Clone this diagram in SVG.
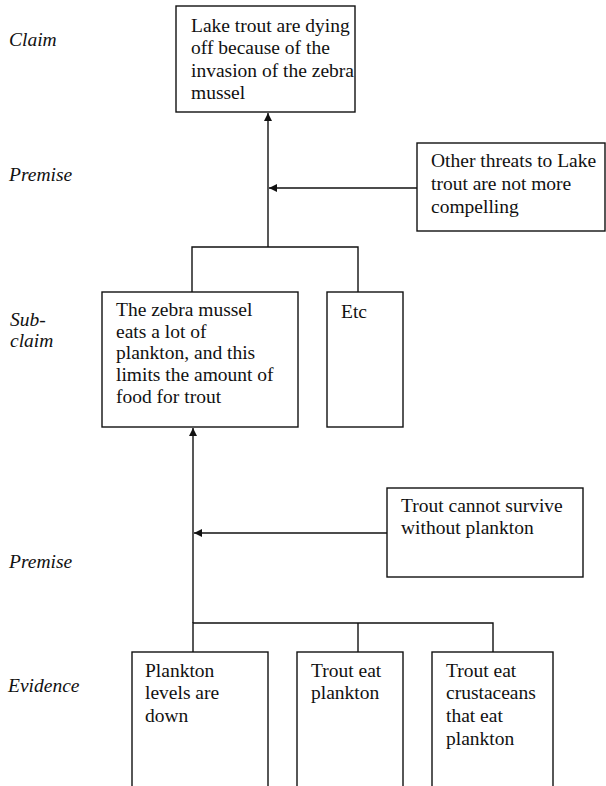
<svg xmlns="http://www.w3.org/2000/svg" width="606" height="786" viewBox="0 0 606 786">
<style>
.box{fill:#fff;stroke:#111;stroke-width:1.4}
.t{font-size:19.5px;fill:#111}
.lbl{font-size:19.5px;font-style:italic;fill:#111}
.c{fill:none;stroke:#111;stroke-width:1.4}
</style>
<defs>
<marker id="ah" viewBox="0 0 10 10" refX="10" refY="5" markerWidth="10" markerHeight="8" markerUnits="userSpaceOnUse" orient="auto">
<path d="M0,0 L10,5 L0,10 Z" fill="#111"/>
</marker>
</defs>
<g font-family="Liberation Serif, serif">
<g id="labels">
<text class="lbl" x="9" y="46">Claim</text>
<text class="lbl" x="9" y="181">Premise</text>
<text class="lbl" x="10" y="326">Sub-</text>
<text class="lbl" x="10" y="347">claim</text>
<text class="lbl" x="9" y="568">Premise</text>
<text class="lbl" x="8" y="692">Evidence</text>
</g>
<g id="connectors">
<path class="c" d="M268,247 L268,113" marker-end="url(#ah)"/>
<path class="c" d="M417,188 L269,188" marker-end="url(#ah)"/>
<path class="c" d="M192,292 L192,247 L358,247 L358,292"/>
<path class="c" d="M193,623 L193,428" marker-end="url(#ah)"/>
<path class="c" d="M387,533 L194,533" marker-end="url(#ah)"/>
<path class="c" d="M193,652 L193,623 L493,623 L493,652"/>
<path class="c" d="M358,623 L358,652"/>
</g>
<g id="claim">
<rect class="box" x="176" y="6" width="179" height="106"/>
<text class="t" x="191" y="32">Lake trout are dying</text>
<text class="t" x="191" y="54">off because of the</text>
<text class="t" x="191" y="77">invasion of the zebra</text>
<text class="t" x="191" y="99">mussel</text>
</g>
<g id="premise1">
<rect class="box" x="417" y="143" width="188" height="88"/>
<text class="t" x="431" y="167">Other threats to Lake</text>
<text class="t" x="431" y="190">trout are not more</text>
<text class="t" x="431" y="213">compelling</text>
</g>
<g id="subclaim">
<rect class="box" x="102" y="292" width="196" height="135"/>
<text class="t" x="116" y="316">The zebra mussel</text>
<text class="t" x="116" y="338">eats a lot of</text>
<text class="t" x="116" y="359">plankton, and this</text>
<text class="t" x="116" y="381">limits the amount of</text>
<text class="t" x="116" y="403">food for trout</text>
</g>
<g id="etc">
<rect class="box" x="327" y="292" width="76" height="135"/>
<text class="t" x="341" y="318">Etc</text>
</g>
<g id="premise2">
<rect class="box" x="387" y="488" width="196" height="89"/>
<text class="t" x="401" y="512">Trout cannot survive</text>
<text class="t" x="401" y="534">without plankton</text>
</g>
<g id="evidence1">
<rect class="box" x="132" y="652" width="136" height="150"/>
<text class="t" x="145" y="677">Plankton</text>
<text class="t" x="145" y="699">levels are</text>
<text class="t" x="145" y="722">down</text>
</g>
<g id="evidence2">
<rect class="box" x="297" y="652" width="106" height="150"/>
<text class="t" x="311" y="677">Trout eat</text>
<text class="t" x="311" y="699">plankton</text>
</g>
<g id="evidence3">
<rect class="box" x="432" y="652" width="121" height="150"/>
<text class="t" x="446" y="677">Trout eat</text>
<text class="t" x="446" y="699">crustaceans</text>
<text class="t" x="446" y="722">that eat</text>
<text class="t" x="446" y="745">plankton</text>
</g>
</g>
</svg>
